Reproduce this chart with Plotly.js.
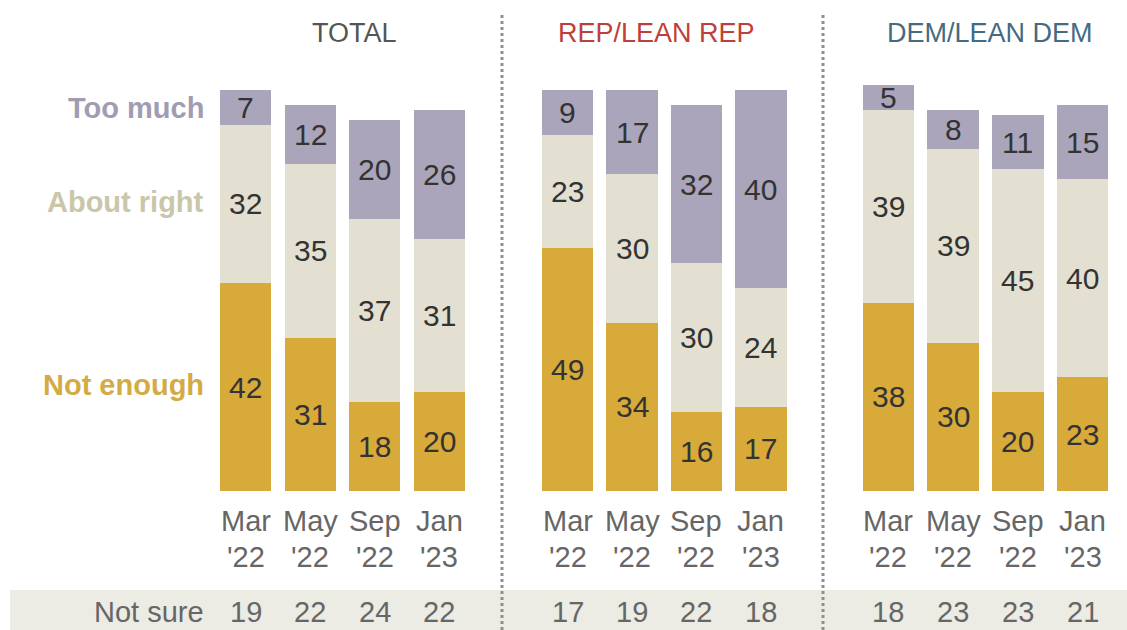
<!DOCTYPE html>
<html>
<head>
<meta charset="utf-8">
<script src="https://cdn.plot.ly/plotly-3.0.1.min.js"></script>
<style>html,body{margin:0;padding:0;background:#fff;}#chart{width:1127px;height:630px;}</style>
</head>
<body>
<div id="chart"></div>
<script>
// ---- data ----
var categories = ["Mar '22", "May '22", "Sep '22", "Jan '23"];
var monthLabels = ["Mar", "May", "Sep", "Jan"];
var yearLabels = ["'22", "'22", "'22", "'23"];
var panels = ["TOTAL", "REP/LEAN REP", "DEM/LEAN DEM"];
var seriesNames = ["Not enough", "About right", "Too much"];

var totalNotEnough = [42, 31, 18, 20];
var totalAboutRight = [32, 35, 37, 31];
var totalTooMuch = [7, 12, 20, 26];
var totalNotSure = [19, 22, 24, 22];

var repNotEnough = [49, 34, 16, 17];
var repAboutRight = [23, 30, 30, 24];
var repTooMuch = [9, 17, 32, 40];
var repNotSure = [17, 19, 22, 18];

var demNotEnough = [38, 30, 20, 23];
var demAboutRight = [39, 39, 45, 40];
var demTooMuch = [5, 8, 11, 15];
var demNotSure = [18, 23, 23, 21];

// ---- styles ----
var colors = ["#d7aa3a", "#e3e0d1", "#aaa5bb"];
var labelColors = ["#d3ab45", "#c9c6a9", "#a19cb2"];
var titleColors = ["#555555", "#bf3f3a", "#456a84"];
var FONT = "Liberation Sans, Arial, sans-serif";

var panelData = [
  {series: [totalNotEnough, totalAboutRight, totalTooMuch], notSure: totalNotSure, xa: "x", titleX: 354},
  {series: [repNotEnough, repAboutRight, repTooMuch], notSure: repNotSure, xa: "x2", titleX: 656},
  {series: [demNotEnough, demAboutRight, demTooMuch], notSure: demNotSure, xa: "x3", titleX: 990}
];

var W = 1127, H = 630;
function py(pix) { return (H - pix) / H; }
function px(pix) { return pix / W; }

var traces = [];
var annotations = [];
function ann(o) {
  annotations.push(Object.assign({showarrow: false, xanchor: "center", yanchor: "middle"}, o));
}
panelData.forEach(function (p, pi) {
  p.series.forEach(function (vals, si) {
    traces.push({
      type: "bar",
      x: categories,
      y: vals,
      name: seriesNames[si],
      xaxis: p.xa,
      yaxis: "y",
      marker: {color: colors[si], line: {width: 0}},
      hoverinfo: "skip",
      showlegend: false
    });
  });
  categories.forEach(function (c, ci) {
    var cum = 0;
    p.series.forEach(function (vals, si) {
      var v = vals[ci];
      ann({x: c, y: cum + v / 2, xref: p.xa, yref: "y", text: String(v),
        font: {family: FONT, size: 30, color: "#333333"}});
      cum += v;
    });
    ann({x: c, xref: p.xa, y: py(521), yref: "paper", text: monthLabels[ci],
      font: {family: FONT, size: 29, color: "#666666"}});
    ann({x: c, xref: p.xa, y: py(557), yref: "paper", text: yearLabels[ci],
      font: {family: FONT, size: 29, color: "#666666"}});
    ann({x: c, xref: p.xa, y: py(612), yref: "paper", text: String(p.notSure[ci]),
      font: {family: FONT, size: 29, color: "#666666"}});
  });
  ann({x: px(p.titleX), xref: "paper", y: py(33), yref: "paper", text: panels[pi],
    font: {family: FONT, size: 27, color: titleColors[pi]}});
});

var leftY = [385, 202, 108];
seriesNames.forEach(function (n, si) {
  ann({x: px(206), xref: "paper", xanchor: "right", y: py(leftY[si]), yref: "paper",
    text: "<b>" + n + "</b>", font: {family: FONT, size: 29, color: labelColors[si]}});
});
ann({x: px(206), xref: "paper", xanchor: "right", y: py(612), yref: "paper",
  text: "Not sure", font: {family: FONT, size: 29, color: "#666666"}});

var shapes = [
  {type: "rect", xref: "paper", yref: "paper", x0: px(10), x1: 1, y0: 0, y1: py(590),
   fillcolor: "#ecebe4", line: {width: 0}, layer: "below"},
  {type: "line", xref: "paper", yref: "paper", x0: px(502), x1: px(502), y0: 0, y1: py(12),
   line: {color: "#8f8f8f", width: 3, dash: "dot"}},
  {type: "line", xref: "paper", yref: "paper", x0: px(823), x1: px(823), y0: 0, y1: py(12),
   line: {color: "#8f8f8f", width: 3, dash: "dot"}}
];

var hiddenX = {showgrid: false, zeroline: false, showticklabels: false, showline: false, ticks: "",
  type: "category", fixedrange: true};
function xa(d0, d1) { return Object.assign({}, hiddenX, {domain: [d0, d1], anchor: "y"}); }

var layout = {
  width: W, height: H,
  margin: {l: 0, r: 0, t: 0, b: 0},
  paper_bgcolor: "#ffffff", plot_bgcolor: "rgba(0,0,0,0)",
  barmode: "stack", bargap: 0.207,
  showlegend: false,
  xaxis: xa(px(213.8), px(471.2)),
  xaxis2: xa(px(535.3), px(793.2)),
  xaxis3: xa(px(855.8), px(1115.2)),
  yaxis: {range: [0, 90], domain: [py(491), py(45.5)], showgrid: false, zeroline: false,
    showticklabels: false, showline: false, ticks: "", fixedrange: true},
  annotations: annotations,
  shapes: shapes
};

Plotly.newPlot("chart", traces, layout, {displayModeBar: false, staticPlot: true});
</script>
</body>
</html>
